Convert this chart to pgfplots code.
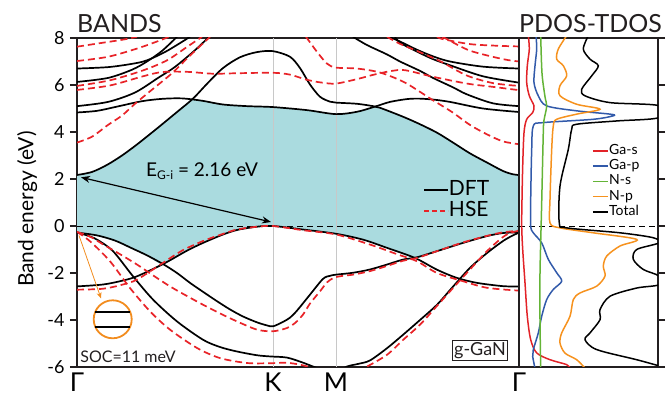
\documentclass[border=0pt]{standalone}
\usepackage{pgfplots}
\pgfplotsset{compat=1.18}
\usepackage{fontspec}
\setmainfont{Lato}
\usetikzlibrary{arrows.meta}

\definecolor{fillc}{RGB}{170,219,223}
\definecolor{hsered}{RGB}{232,35,40}
\definecolor{gascol}{RGB}{226,35,40}
\definecolor{gapcol}{RGB}{50,90,170}
\definecolor{nscol}{RGB}{100,180,55}
\definecolor{npcol}{RGB}{246,146,30}
\definecolor{orcol}{RGB}{242,140,30}
\definecolor{framecol}{RGB}{35,31,32}
\definecolor{gridcol}{RGB}{200,200,200}

\pgfplotsset{
  dft/.style={black, line width=1.7bp, smooth, forget plot},
  hse/.style={hsered, line width=1.7bp, smooth, dash pattern=on 7bp off 4bp, forget plot},
  dos/.style={line width=1.5bp, smooth, forget plot},
}

\begin{document}
\begin{tikzpicture}
\path[use as bounding box] (0,0) rectangle (671bp,397bp);
\begin{axis}[
  name=bands,
  at={(77bp,30bp)}, anchor=south west,
  scale only axis, width=442bp, height=329bp,
  xmin=0, xmax=442, ymin=-6, ymax=8,
  axis line style={line width=1.8bp, framecol},
  ytick={-6,-4,...,8}, ytick pos=left, tick align=outside,
  major tick length=7bp,
  every tick/.style={line width=1.2bp, framecol},
  xtick={0,196,259,442}, xticklabels={Γ,K,M,Γ},
  xtick style={draw=none},
  /pgf/number format/assume math mode=true,
  yticklabel style={font=\fontsize{18bp}{18bp}\selectfont, xshift=-2bp},
  xticklabel style={font=\fontsize{26bp}{26bp}\selectfont, inner sep=0pt, yshift=1bp},
  ylabel={Band energy (eV)},
  every axis y label/.style={at={(rel axis cs:-0.113,0.48)}, rotate=90, anchor=center,
     font=\fontsize{21bp}{22bp}\selectfont},
  legend style={draw=none, fill=none, at={(rel axis cs:0.783,0.506)}, anchor=west,
     font=\fontsize{21bp}{22bp}\selectfont, inner sep=0pt, row sep=1bp,
     nodes={inner sep=0pt, text height=15bp, text depth=5bp}},
  legend cell align=left,
  legend image code/.code={\draw[#1] (0bp,0bp) -- (24bp,0bp);},
]
% gap fill
\addplot[fill=fillc, draw=none, smooth, forget plot] coordinates {
 (-8,2.17)(0,2.17)(15,2.3)(30,2.6)(45,3.0)(60,3.47)(80,4.15)(100,4.85)(116,5.40)
 (125,5.33)(146,5.17)(170,5.1)(196,5.06)(230,4.93)(259,4.76)(280,4.86)(299,5.07)
 (303,5.03)(326,4.65)(343,4.33)(360,3.97)(376,3.55)(393,3.09)(410,2.70)(426,2.34)(436,2.2)(442,2.17)(450,2.17)
 (450,-0.27)(442,-0.27)(426,-0.3)(410,-0.43)(386,-0.72)(360,-1.07)(338,-1.36)
 (310,-0.93)(286,-0.58)(259,-0.33)(226,-0.15)(196,0)(180,-0.03)(160,-0.17)(145,-0.38)(126,-0.72)(110,-1.05)(86,-1.62)
 (70,-1.25)(54,-0.93)(38,-0.62)(20,-0.4)(0,-0.28)(-8,-0.28)
} -- cycle;
% K and M lines, zero line
\addplot[gridcol, line width=0.8bp, forget plot] coordinates {(196,-6)(196,8)};
\addplot[gridcol, line width=0.8bp, forget plot] coordinates {(259,-6)(259,8)};
\addplot[black, line width=0.7bp, dash pattern=on 6bp off 4bp, forget plot] coordinates {(0,0)(442,0)};

% DFT conduction
\addplot[dft] coordinates {(0,2.17)(15,2.3)(30,2.6)(45,3.0)(60,3.47)(80,4.15)(100,4.85)(116,5.42)(130,6.05)(146,6.72)(163,7.18)(180,7.40)(196,7.44)(213,7.2)(223,6.72)(233,6.02)(243,5.5)(253,5.29)(259,5.25)(280,5.2)(296,5.1)(303,5.03)(326,4.65)(343,4.33)(360,3.97)(376,3.55)(393,3.09)(410,2.70)(426,2.34)(436,2.2)(442,2.17)};
\addplot[dft] coordinates {(0,4.83)(20,4.9)(40,5.08)(65,5.31)(85,5.41)(105,5.43)(125,5.33)(146,5.17)(170,5.1)(196,5.06)(230,4.93)(259,4.76)(280,4.86)(298,5.08)(313,5.28)(330,5.40)(342,5.42)(356,5.38)(373,5.28)(406,5.0)(442,4.85)};
\addplot[dft] coordinates {(0,6.70)(31,6.76)(55,6.90)(70,7.05)(90,7.45)(113,8.05)};
\addplot[dft] coordinates {(0,6.13)(31,6.30)(55,6.65)(70,7.0)(85,7.45)(100,8.05)};
\addplot[dft] coordinates {(0,5.10)(31,5.28)(58,5.68)(81,6.30)(98,6.77)(118,7.48)(132,8.05)};
\addplot[dft] coordinates {(312,8.05)(323,7.85)(340,7.5)(356,7.22)(373,7.0)(406,6.78)(442,6.70)};
\addplot[dft] coordinates {(318,8.05)(323,7.8)(340,7.42)(356,7.1)(373,6.84)(406,6.37)(442,6.10)};
\addplot[dft] coordinates {(276,8.05)(290,7.7)(310,7.3)(323,7.0)(343,6.6)(356,6.3)(376,5.9)(390,5.6)(416,5.22)(442,5.10)};
% DFT valence
\addplot[dft] coordinates {(0,-0.28)(20,-0.4)(38,-0.62)(54,-0.93)(70,-1.25)(86,-1.62)(100,-2.0)(113,-2.42)(126,-2.8)(140,-3.2)(153,-3.55)(166,-3.85)(180,-4.1)(190,-4.23)(196,-4.27)(206,-4.08)(213,-3.9)(220,-3.6)(233,-2.92)(246,-2.25)(253,-2.12)(259,-2.07)(276,-1.99)(293,-1.85)(310,-1.64)(326,-1.43)(340,-1.33)(360,-1.07)(386,-0.72)(410,-0.43)(426,-0.3)(442,-0.27)};
\addplot[dft] coordinates {(0,-2.57)(26,-2.49)(45,-2.33)(60,-2.14)(86,-1.62)(110,-1.05)(126,-0.72)(145,-0.38)(160,-0.17)(180,-0.03)(196,0)(226,-0.15)(259,-0.33)(286,-0.58)(310,-0.93)(338,-1.36)(360,-1.86)(380,-2.21)(400,-2.42)(426,-2.56)(442,-2.57)};
\addplot[dft] coordinates {(0,-0.28)(10,-0.4)(20,-0.58)(36,-1.07)(56,-2.14)(76,-3.13)(100,-4.06)(126,-4.84)(143,-5.15)(160,-5.34)(180,-5.5)(193,-5.55)(210,-5.6)(225,-5.8)(236,-5.98)(250,-6.2)};
\addplot[dft] coordinates {(258,-6.25)(270,-5.98)(282,-5.86)(293,-5.72)(310,-5.2)(326,-4.63)(343,-4.0)(360,-3.35)(376,-2.58)(393,-1.78)(410,-1.15)(426,-0.64)(435,-0.42)(442,-0.28)};

% HSE conduction
\addplot[hse] coordinates {(0,7.63)(23,7.78)(46,7.93)(60,8.05)};
\addplot[hse] coordinates {(0,7.02)(31,7.2)(60,7.55)(80,7.85)(92,8.05)};
\addplot[hse] coordinates {(0,5.96)(33,6.20)(66,6.62)(90,7.05)(110,7.62)(125,8.05)};
\addplot[hse] coordinates {(0,5.79)(33,5.98)(66,6.37)(85,6.55)(110,6.56)(136,6.48)(160,6.5)(196,6.52)(213,6.44)(230,6.22)(245,6.1)(259,6.06)(280,6.25)(295,6.42)(303,6.5)(315,6.6)(328,6.63)(356,6.35)(390,6.06)(416,5.92)(442,5.78)};
\addplot[hse] coordinates {(0,3.55)(15,3.8)(31,4.3)(45,4.7)(58,5.2)(75,5.8)(95,6.5)(113,7.25)(133,8.05)};
\addplot[hse] coordinates {(229,8.05)(240,7.41)(250,6.91)(259,6.74)(280,6.7)(303,6.53)(328,6.1)(356,5.35)(375,4.85)(393,4.3)(410,3.9)(426,3.6)(442,3.48)};
\addplot[hse] coordinates {(360,8.05)(366,7.95)(393,7.74)(420,7.67)(442,7.64)};
\addplot[hse] coordinates {(365,8.05)(370,7.95)(393,7.46)(426,7.1)(442,7.0)};
\addplot[hse] coordinates {(310,8.05)(323,7.75)(340,7.45)(356,7.15)(366,6.95)(390,6.4)(416,6.08)(442,5.96)};
% HSE valence
\addplot[hse] coordinates {(0,-0.25)(13,-0.45)(26,-0.78)(43,-1.2)(60,-1.64)(76,-2.1)(93,-2.57)(110,-2.98)(126,-3.35)(143,-3.72)(160,-4.06)(180,-4.41)(196,-4.48)(210,-4.34)(218,-4.13)(226,-3.77)(233,-3.3)(243,-2.78)(250,-2.4)(257,-2.2)(266,-2.12)(276,-2.07)(293,-1.92)(310,-1.7)(326,-1.48)(340,-1.36)(360,-1.07)(386,-0.7)(410,-0.42)(426,-0.27)(442,-0.2)};
\addplot[hse] coordinates {(0,-0.25)(13,-0.65)(33,-1.5)(53,-2.64)(73,-3.63)(93,-4.41)(120,-5.19)(143,-5.62)(170,-5.83)(193,-5.84)(210,-5.82)(225,-5.92)(236,-6.05)(245,-6.15)};
\addplot[hse] coordinates {(280,-6.15)(290,-5.98)(310,-5.48)(326,-4.85)(343,-4.2)(360,-3.4)(376,-2.64)(393,-1.85)(410,-1.07)(425,-0.5)(433,-0.3)(442,-0.2)};
\addplot[hse] coordinates {(0,-2.71)(26,-2.67)(45,-2.5)(60,-2.28)(86,-1.57)(105,-1.05)(126,-0.64)(145,-0.35)(160,-0.15)(180,-0.03)(196,0)(226,-0.18)(259,-0.36)(293,-0.79)(320,-1.2)(340,-1.5)(360,-2.0)(386,-2.35)(410,-2.63)(442,-2.75)};

\addlegendimage{black, line width=1.7bp}
\addlegendentry{DFT}
\addlegendimage{hsered, line width=1.7bp, dash pattern=on 5bp off 3bp}
\addlegendentry{HSE}

% annotations
\draw[{Stealth[length=9bp,width=7bp]}-{Stealth[length=9bp,width=7bp]}, line width=1.2bp] (axis cs:4,2.07) -- (axis cs:194,0.17);
\node[font=\fontsize{19bp}{20bp}\selectfont] at (axis cs:125,2.32) {E\raisebox{-0.35ex}{\fontsize{12bp}{12bp}\selectfont G-i} = 2.16 eV};
\draw[orcol, line width=0.8bp, -{Stealth[length=6bp,width=5bp]}] (axis cs:2,-0.4) -- (axis cs:24,-3.08);
\draw[orcol, line width=1.8bp] (axis cs:35.7,-3.97) circle[radius=19bp];
\draw[black, line width=1.6bp] (axis cs:18,-3.67) -- (axis cs:53,-3.67);
\draw[black, line width=1.6bp] (axis cs:18,-4.31) -- (axis cs:53,-4.31);
\node[font=\fontsize{16bp}{16bp}\selectfont, text=framecol] at (axis cs:51,-5.57) {SOC=11 meV};
\node[draw=framecol, line width=0.8bp, inner sep=2bp, font=\fontsize{18bp}{18bp}\selectfont, text=framecol] at (axis cs:403,-5.29) {g-GaN};
\end{axis}

\begin{axis}[
  name=dos,
  at={(519bp,30bp)}, anchor=south west,
  scale only axis, width=139bp, height=329bp,
  xmin=0, xmax=139, ymin=-6, ymax=8,
  axis line style={line width=1.8bp, framecol},
  xtick=\empty, ytick={-6,-4,...,8}, yticklabels={}, ytick pos=right, tick align=outside,
  major tick length=7bp,
  every tick/.style={line width=1.2bp, framecol},
  legend style={draw=none, fill=none, at={(rel axis cs:0.525,0.564)}, anchor=west,
     font=\fontsize{14bp}{15bp}\selectfont, inner sep=0pt, row sep=0.3bp,
     nodes={inner sep=0.5bp, text height=10.5bp, text depth=3.5bp}},
  legend cell align=left,
  legend image code/.code={\draw[#1] (0bp,0bp) -- (15bp,0bp);},
]
\addplot[black, line width=0.7bp, dash pattern=on 6bp off 4bp, forget plot] coordinates {(0,0)(139,0)};
\addplot[dos, gascol] coordinates {(9.3,8.1)(10.3,7.53)(8.3,6.82)(7.7,6.1)(10.3,5.54)(15,5.11)(13.7,4.83)(7.7,4.54)(5,3.97)(3.7,2.55)(3,1.13)(2.7,0)(3.7,-1.0)(6,-2.42)(8.3,-3.84)(11.7,-4.84)(17.7,-5.4)(31,-5.69)(47.7,-5.9)(51,-6.05)};
\addplot[dos, gapcol] coordinates {(17,8.1)(17.7,7.53)(16,6.82)(15,6.1)(19.3,5.54)(27.7,5.11)(57.7,4.9)(91,4.76)(94.3,4.69)(74.3,4.54)(24.3,4.4)(14.3,4.26)(12.7,3.26)(11.7,1.13)(11.7,0)(14.3,-0.29)(22.7,-0.72)(29.3,-1.42)(37.7,-1.99)(42.7,-2.35)(34.3,-2.7)(27.7,-3.13)(22.7,-3.84)(19.3,-4.55)(14.3,-5.26)(13.7,-5.55)(16,-6.05)};
\addplot[dos, nscol] coordinates {(21.7,8.1)(23,6.5)(26,5.5)(27.7,5.1)(25,4.5)(24.3,4.0)(22.7,1.0)(21,-2.0)(21,-4.0)(21.7,-6.05)};
\addplot[dos, npcol] coordinates {(47.7,8.1)(39.3,7.53)(37.7,7.1)(44.3,6.82)(47.7,6.39)(41,5.97)(41,5.54)(57.7,5.18)(81,4.97)(57.7,4.76)(37.7,4.54)(34.3,4.26)(32.7,3.26)(31,1.13)(31,0.13)(41,-0.08)(74.3,-0.29)(117.7,-0.57)(101,-0.85)(87.7,-1.28)(84.3,-1.71)(86,-2.13)(77.7,-2.56)(61,-2.85)(54.3,-3.13)(51,-3.84)(42.7,-4.55)(41,-4.98)(46,-5.41)(57.7,-5.69)(66,-6.05)};
\addplot[dos, black] coordinates {(69.3,8.1)(64.3,7.53)(71,7.1)(79.3,6.82)(72.7,6.39)(62.7,5.82)(66,5.54)(91,5.25)(140,5.12)(140,4.61)(97.7,4.47)(57.7,4.33)(52.7,4.12)(49.3,3.26)(41,1.7)(40.3,0.13)(47.7,-0.08)(101,-0.29)(134.3,-0.5)(140,-0.72)(117.7,-1.0)(114.3,-1.42)(124.3,-1.85)(140,-2.13)(140,-2.5)(117.7,-2.64)(91,-2.99)(81,-3.56)(81,-3.99)(71,-4.55)(66,-4.84)(77.7,-5.26)(117.7,-5.69)(140,-5.95)};
\addlegendimage{gascol, line width=1.5bp}\addlegendentry{Ga-s}
\addlegendimage{gapcol, line width=1.5bp}\addlegendentry{Ga-p}
\addlegendimage{nscol, line width=1.5bp}\addlegendentry{N-s}
\addlegendimage{npcol, line width=1.5bp}\addlegendentry{N-p}
\addlegendimage{black, line width=1.5bp}\addlegendentry{Total}
\end{axis}

\node[anchor=south west, inner sep=0pt, yshift=5bp, font=\fontsize{25bp}{25bp}\selectfont, text=framecol] at (bands.north west) {BANDS};
\node[anchor=south, inner sep=0pt, yshift=5bp, xshift=2bp, font=\fontsize{25bp}{25bp}\selectfont, text=framecol] at (dos.north) {PDOS-TDOS};
\end{tikzpicture}
\end{document}
